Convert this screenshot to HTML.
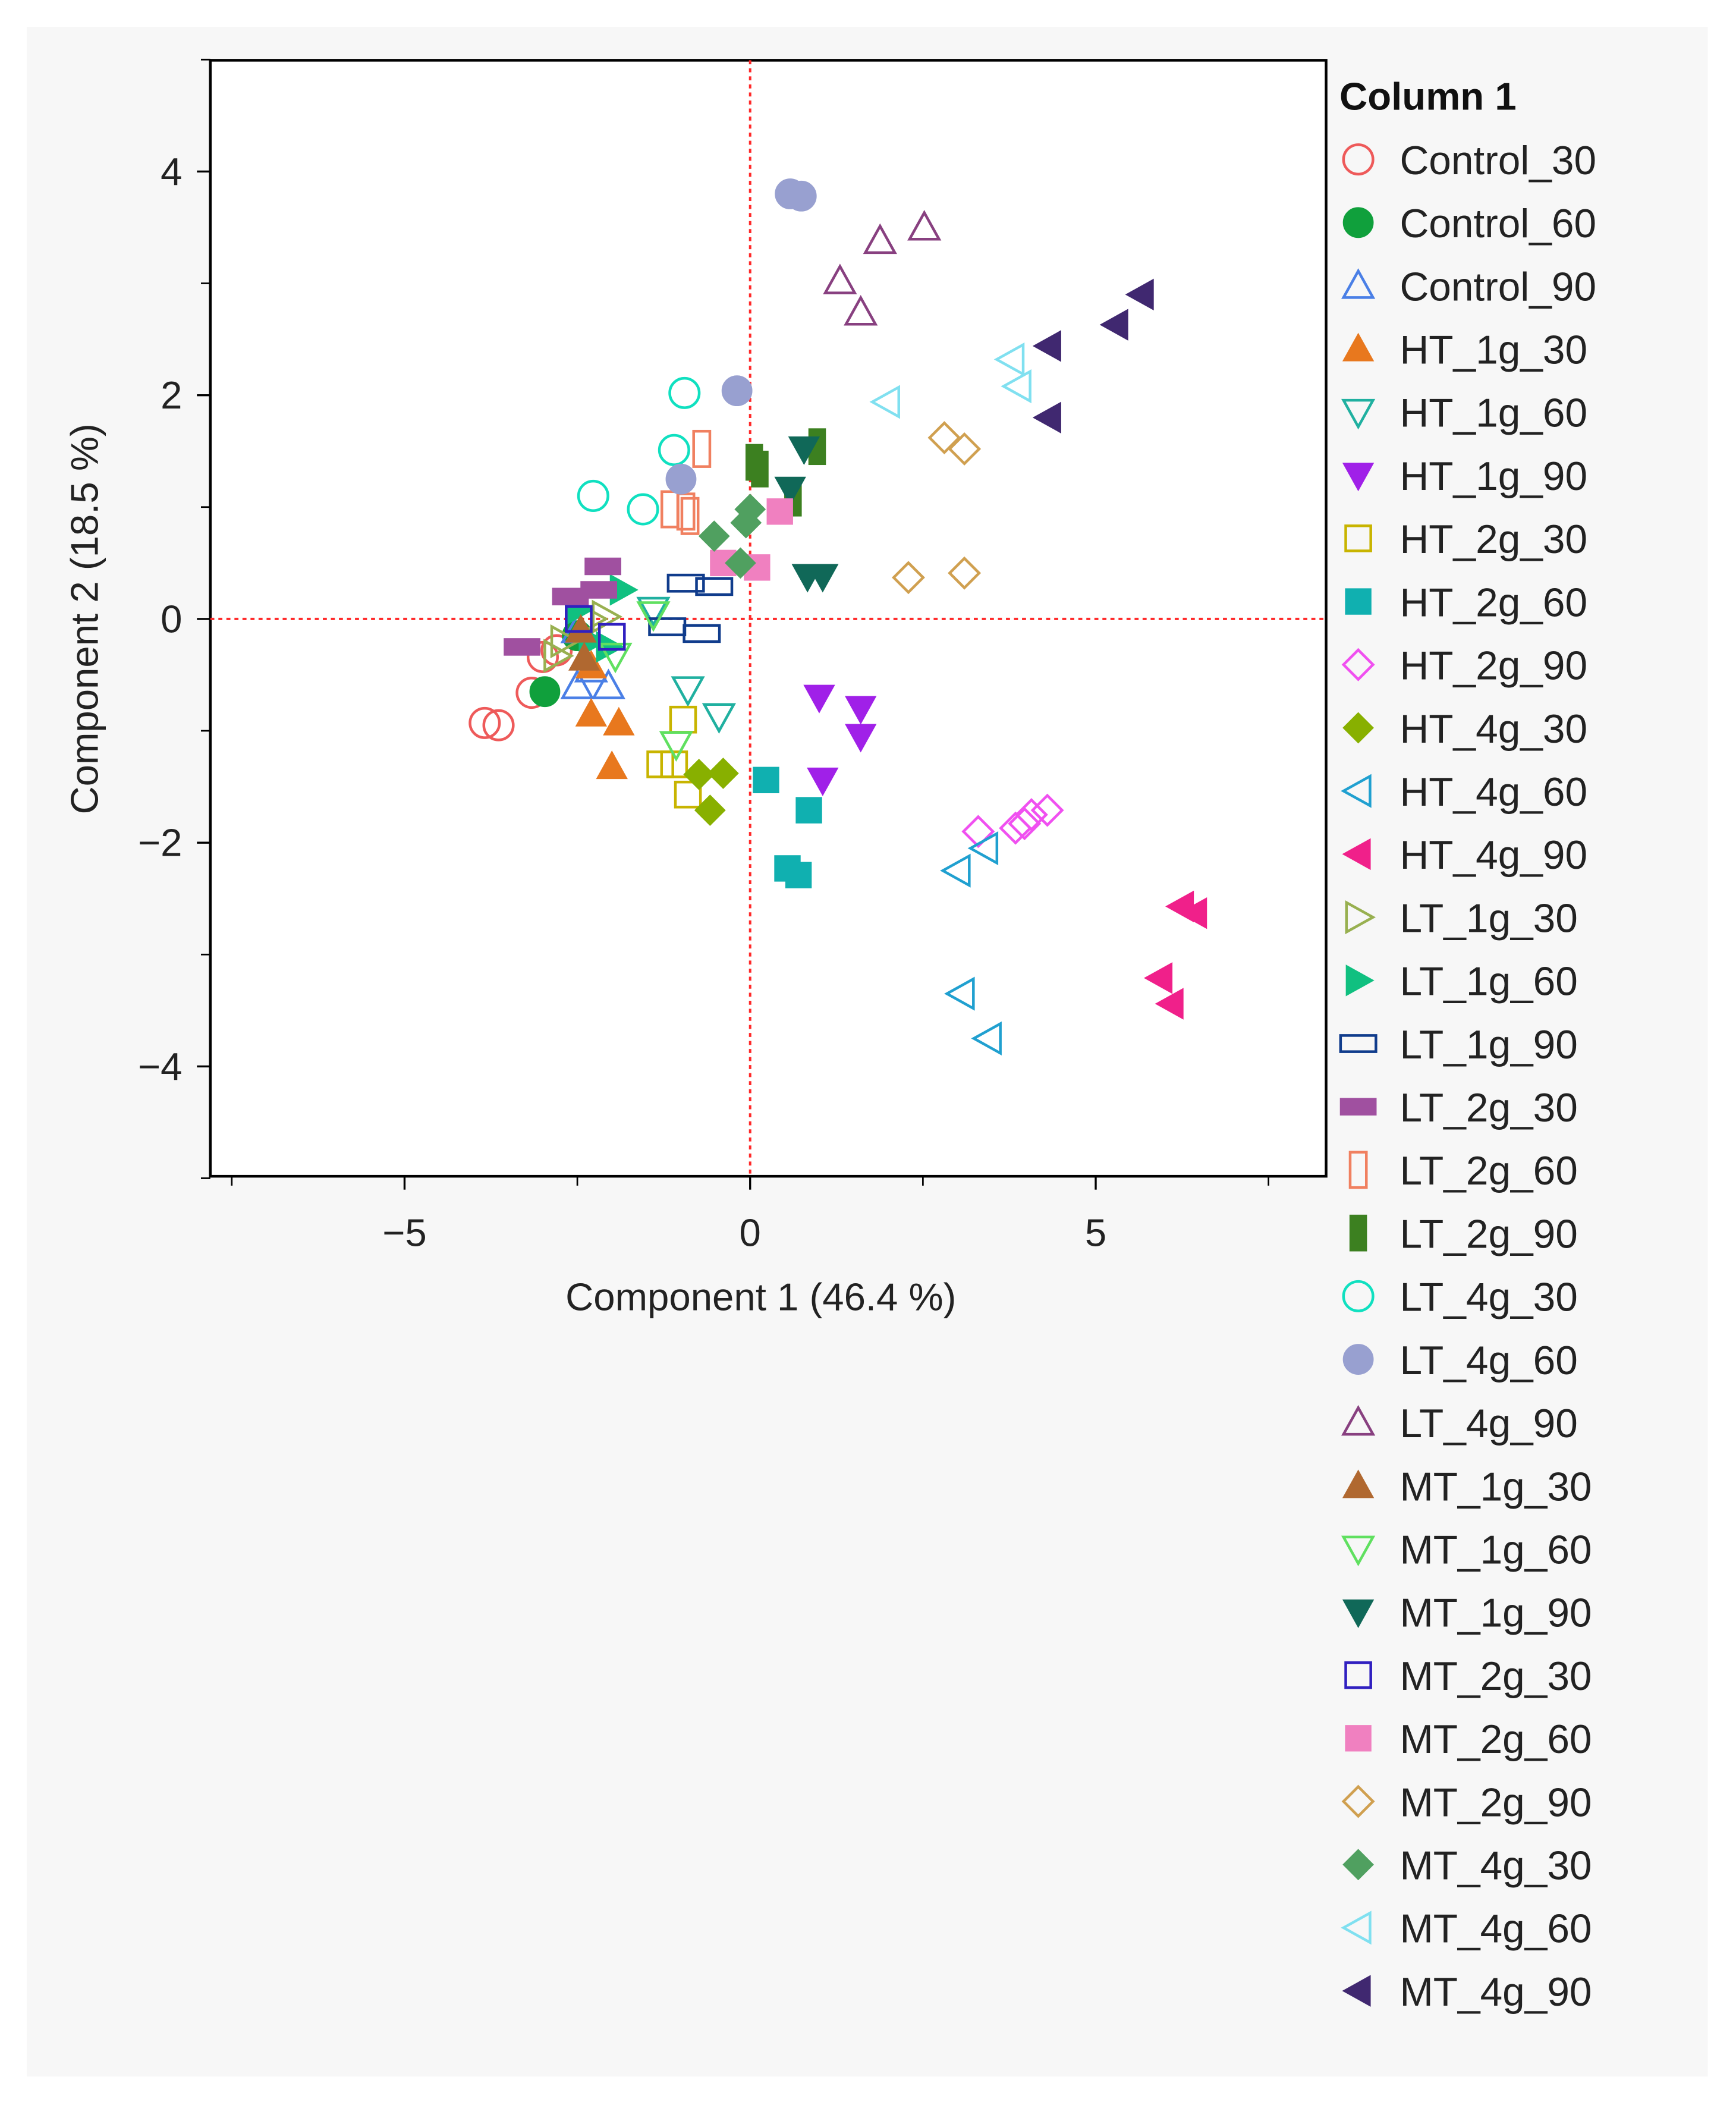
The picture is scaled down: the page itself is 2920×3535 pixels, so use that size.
<!DOCTYPE html>
<html><head><meta charset="utf-8"><style>
html,body{margin:0;padding:0;background:#fff}
svg{display:block;font-family:"Liberation Sans",sans-serif}
</style></head><body>
<svg id="chart" width="2920" height="3535" viewBox="0 0 1296 1569" xmlns="http://www.w3.org/2000/svg">
<rect x="20" y="20" width="1255" height="1530" fill="#f7f7f7"/>
<rect x="157" y="45" width="833" height="833" fill="#fff" stroke="#000" stroke-width="2"/>
<g id="axes"></g><g id="marks"></g><g id="legend"></g>
<text x="568" y="978" font-size="29" text-anchor="middle" fill="#222">Component 1  (46.4 %)</text>
<text transform="translate(73,462) rotate(-90)" font-size="29" text-anchor="middle" fill="#222">Component 2  (18.5 %)</text>
</svg>
<script>
const seriesNames=["Control_30","Control_60","Control_90","HT_1g_30","HT_1g_60","HT_1g_90","HT_2g_30","HT_2g_60","HT_2g_90","HT_4g_30","HT_4g_60","HT_4g_90","LT_1g_30","LT_1g_60","LT_1g_90","LT_2g_30","LT_2g_60","LT_2g_90","LT_4g_30","LT_4g_60","LT_4g_90","MT_1g_30","MT_1g_60","MT_1g_90","MT_2g_30","MT_2g_60","MT_2g_90","MT_4g_30","MT_4g_60","MT_4g_90"];
const xValues=[
[-3.84,-3.64,-3.16,-3.0,-2.8],[-2.97,-2.5],[-2.5,-2.05,-2.3,-2.5],[-2.3,-1.9,-2.0,-2.3],[-0.9,-0.45,-1.4],
[1.0,1.6,1.6,1.05],[-0.97,-1.3,-0.9,-1.1],[0.23,0.85,0.54,0.7],[3.3,3.84,4.07,4.3,3.97],[-0.58,-0.74,-0.39],
[3.0,3.4,3.06,3.45],[6.24,6.43,5.93,6.09],[-2.7,-2.3,-2.1,-2.8],[-1.85,-2.3,-2.05,-2.5],[-0.93,-0.52,-1.2,-0.7],
[-2.13,-2.19,-3.3,-2.6],[-0.7,-1.16,-0.93,-0.87],[0.06,0.14,0.97,0.62],[-0.95,-1.1,-2.27,-1.55],[0.58,0.74,-0.19,-1.0],
[1.88,2.52,1.3,1.6],[-2.4,-2.45],[-1.07,-1.4,-1.95],[0.78,0.58,0.83,1.05],[-2.0,-2.48],
[-0.39,0.1,0.43],[2.81,3.1,2.29,3.1],[-0.52,-0.06,0,-0.14],[1.98,3.78,3.88],[4.32,4.32,5.29,5.66]];
const yValues=[
[-0.93,-0.95,-0.66,-0.34,-0.28],[-0.65,-0.15],[-0.6,-0.6,-0.45,-0.1],[-0.85,-0.93,-1.32,-0.42],[-0.63,-0.87,0.08],
[-0.7,-0.8,-1.05,-1.44],[-0.9,-1.3,-1.57,-1.3],[-1.44,-1.71,-2.23,-2.29],[-1.9,-1.87,-1.75,-1.71,-1.83],[-1.71,-1.39,-1.38],
[-2.25,-2.05,-3.35,-3.75],[-2.57,-2.63,-3.21,-3.44],[-0.2,0,0.02,-0.33],[0.26,-0.2,-0.25,0.08],[0.32,0.29,-0.07,-0.13],
[0.47,0.26,-0.25,0.2],[1.52,0.98,0.96,0.92],[1.4,1.34,1.54,1.08],[2.02,1.51,1.1,0.98],[3.8,3.78,2.04,1.25],
[3.38,3.5,3.02,2.74],[-0.35,-0.1],[-1.12,0.04,-0.33],[1.52,1.16,0.38,0.38],[-0.16,0],
[0.5,0.46,0.96],[1.62,1.52,0.37,0.41],[0.74,0.86,0.98,0.5],[1.94,2.32,2.08],[2.44,1.8,2.63,2.9]];
const xTicks=[-5,0,5];
const yTicks=[-4,-2,0,2,4];
const colors=["#ee5a5a","#10a03c","#4a7fe6","#e8781e","#20b0a0","#a020e8","#c8b400","#10b0b0","#f050f0","#88b000","#20a0d0","#f0208a","#98b050","#10c080","#103c8c","#a050a0","#f08060","#3c8020","#10e0c0","#98a0d0","#884080","#b06830","#60e060","#106858","#3020c0","#f080c0","#d0a050","#50a060","#80e0f0","#402870"];
const shapes=["circle","circle","up","up","down","down","square","square","diamond","diamond","left","left","right","right","wide","wide","tall","tall","circle","circle","up","up","down","down","square","square","diamond","diamond","left","left"];
const filled=[false,true,false,true,false,true,false,true,false,true,false,true,false,true,false,true,false,true,false,true,false,true,false,true,false,true,false,true,false,true];
const NS="http://www.w3.org/2000/svg";
const X=v=>560+v*51.6, Y=v=>462-v*83.5;
function el(t,a,p){const e=document.createElementNS(NS,t);for(const k in a)e.setAttribute(k,a[k]);p.appendChild(e);return e;}
const axes=document.getElementById('axes');
let l=el('line',{x1:X(0),x2:X(0),y1:45,y2:878,stroke:"#ff2a2a","stroke-width":1.8,"stroke-dasharray":"3,3"},axes);


l=el('line',{x1:157,x2:990,y1:Y(0),y2:Y(0),stroke:"#ff2a2a","stroke-width":1.8,"stroke-dasharray":"3,3"},axes);


for(const t of xTicks){const g=el('g',{},axes);


el('line',{x1:X(t),x2:X(t),y1:878,y2:888,stroke:"#000","stroke-width":1.5},g);
const tx=el('text',{x:X(t),y:930,"font-size":29,"text-anchor":"middle",fill:"#222"},g);tx.textContent=(t<0?"\u2212":"")+Math.abs(t);}
for(const t of [-7.5,-2.5,2.5,7.5]){const m=el('line',{x1:X(t),x2:X(t),y1:878,y2:885,stroke:"#000","stroke-width":1.2},axes);

}
for(const t of yTicks){const g=el('g',{},axes);


el('line',{x1:147,x2:157,y1:Y(t),y2:Y(t),stroke:"#000","stroke-width":1.5},g);
const tx=el('text',{x:136,y:Y(t)+10,"font-size":29,"text-anchor":"end",fill:"#222"},g);tx.textContent=(t<0?"\u2212":"")+Math.abs(t);}
for(const t of [-5,-3,-1,1,3,5]){const m=el('line',{x1:150,x2:157,y1:Y(t),y2:Y(t),stroke:"#000","stroke-width":1.2},axes);

}
function marker(s,cx,cy,c,f,p,r){r=r||11;const st=f?{fill:c,stroke:c,"stroke-width":1}:{fill:"none",stroke:c,"stroke-width":2};let e;
switch(s){
case"circle":e=el('circle',Object.assign({cx,cy,r:r},st),p);break;
case"square":e=el('rect',Object.assign({x:cx-r*0.85,y:cy-r*0.85,width:r*1.7,height:r*1.7},st),p);break;
case"wide":e=el('rect',Object.assign({x:cx-r*1.2,y:cy-r*0.55,width:r*2.4,height:r*1.1},st),p);break;
case"tall":e=el('rect',Object.assign({x:cx-r*0.55,y:cy-r*1.2,width:r*1.1,height:r*2.4},st),p);break;
case"diamond":e=el('polygon',Object.assign({points:`${cx},${cy-r} ${cx+r},${cy} ${cx},${cy+r} ${cx-r},${cy}`},st),p);break;
case"up":e=el('polygon',Object.assign({points:`${cx},${cy-r} ${cx+r},${cy+r*0.8} ${cx-r},${cy+r*0.8}`},st),p);break;
case"down":e=el('polygon',Object.assign({points:`${cx},${cy+r} ${cx+r},${cy-r*0.8} ${cx-r},${cy-r*0.8}`},st),p);break;
case"left":e=el('polygon',Object.assign({points:`${cx-r},${cy} ${cx+r*0.8},${cy-r} ${cx+r*0.8},${cy+r}`},st),p);break;
case"right":e=el('polygon',Object.assign({points:`${cx+r},${cy} ${cx-r*0.8},${cy-r} ${cx-r*0.8},${cy+r}`},st),p);break;}
return e;}
const marks=document.getElementById('marks');
seriesNames.forEach((n,i)=>{const g=el('g',{},marks);


xValues[i].forEach((xv,j)=>{const m=marker(shapes[i],X(xv),Y(yValues[i][j]),colors[i],filled[i],g);

});});
const lg=document.getElementById('legend');


const tt=el('text',{x:1000,y:82,"font-size":29,"font-weight":"bold",fill:"#111"},lg);tt.textContent="Column 1";


seriesNames.forEach((n,i)=>{const y=119+i*47.14;const g=el('g',{},lg);


marker(shapes[i],1014,y,colors[i],filled[i],g,11);
const t=el('text',{x:1045,y:y+11,"font-size":30,fill:"#222"},g);t.textContent=n;});
</script>
</body></html>
